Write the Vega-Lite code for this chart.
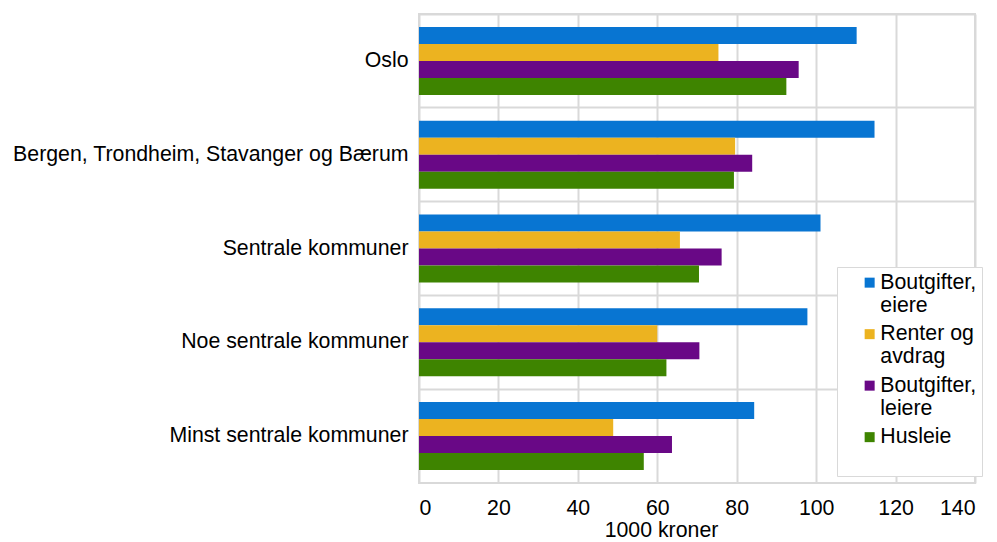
{
  "$schema": "https://vega.github.io/schema/vega-lite/v6.json",
  "width": 556,
  "height": 469,
  "autosize": {"type": "none"},
  "padding": {"left": 419, "top": 14, "right": 22, "bottom": 59},
  "background": "white",
  "config": {
    "view": {"stroke": "#d9d9d9", "strokeWidth": 2},
    "font": "Liberation Sans"
  },
  "data": {
    "values": [
      {"region": "Oslo", "serie": "Boutgifter, eiere", "verdi": 110.2},
      {"region": "Oslo", "serie": "Renter og avdrag", "verdi": 75.4},
      {"region": "Oslo", "serie": "Boutgifter, leiere", "verdi": 95.6},
      {"region": "Oslo", "serie": "Husleie", "verdi": 92.5},
      {"region": "Bergen, Trondheim, Stavanger og Bærum", "serie": "Boutgifter, eiere", "verdi": 114.7},
      {"region": "Bergen, Trondheim, Stavanger og Bærum", "serie": "Renter og avdrag", "verdi": 79.6},
      {"region": "Bergen, Trondheim, Stavanger og Bærum", "serie": "Boutgifter, leiere", "verdi": 83.9},
      {"region": "Bergen, Trondheim, Stavanger og Bærum", "serie": "Husleie", "verdi": 79.3},
      {"region": "Sentrale kommuner", "serie": "Boutgifter, eiere", "verdi": 101.1},
      {"region": "Sentrale kommuner", "serie": "Renter og avdrag", "verdi": 65.7},
      {"region": "Sentrale kommuner", "serie": "Boutgifter, leiere", "verdi": 76.2},
      {"region": "Sentrale kommuner", "serie": "Husleie", "verdi": 70.5},
      {"region": "Noe sentrale kommuner", "serie": "Boutgifter, eiere", "verdi": 97.8},
      {"region": "Noe sentrale kommuner", "serie": "Renter og avdrag", "verdi": 60.0},
      {"region": "Noe sentrale kommuner", "serie": "Boutgifter, leiere", "verdi": 70.6},
      {"region": "Noe sentrale kommuner", "serie": "Husleie", "verdi": 62.3},
      {"region": "Minst sentrale kommuner", "serie": "Boutgifter, eiere", "verdi": 84.4},
      {"region": "Minst sentrale kommuner", "serie": "Renter og avdrag", "verdi": 48.9},
      {"region": "Minst sentrale kommuner", "serie": "Boutgifter, leiere", "verdi": 63.7},
      {"region": "Minst sentrale kommuner", "serie": "Husleie", "verdi": 56.6}
    ]
  },
  "mark": {"type": "bar"},
  "encoding": {
    "y": {
      "field": "region",
      "type": "nominal",
      "sort": ["Oslo", "Bergen, Trondheim, Stavanger og Bærum", "Sentrale kommuner", "Noe sentrale kommuner", "Minst sentrale kommuner"],
      "scale": {"paddingInner": 0, "paddingOuter": 0},
      "axis": {
        "title": null,
        "grid": true,
        "bandPosition": 0,
        "gridColor": "#d9d9d9",
        "gridWidth": 2,
        "ticks": false,
        "domain": false,
        "labelFontSize": 21.3,
        "labelColor": "#000000",
        "labelPadding": 11,
        "labelLimit": 500
      }
    },
    "yOffset": {
      "field": "serie",
      "type": "nominal",
      "sort": ["Boutgifter, eiere", "Renter og avdrag", "Boutgifter, leiere", "Husleie"],
      "scale": {"paddingInner": 0, "paddingOuter": 0.76}
    },
    "x": {
      "field": "verdi",
      "type": "quantitative",
      "scale": {"domain": [0, 140], "nice": false},
      "axis": {
        "title": "1000 kroner",
        "values": [0, 20, 40, 60, 80, 100, 120, 140],
        "grid": true,
        "gridColor": "#d9d9d9",
        "gridWidth": 2,
        "ticks": false,
        "domain": false,
        "labelFontSize": 21.3,
        "labelColor": "#000000",
        "labelPadding": 14,
        "titleFontSize": 21.3,
        "titleFontWeight": "normal",
        "titleColor": "#000000",
        "titlePadding": 1,
        "titleX": 242
      }
    },
    "color": {
      "field": "serie",
      "type": "nominal",
      "sort": ["Boutgifter, eiere", "Renter og avdrag", "Boutgifter, leiere", "Husleie"],
      "scale": {
        "domain": ["Boutgifter, eiere", "Renter og avdrag", "Boutgifter, leiere", "Husleie"],
        "range": ["#0875d2", "#ecb320", "#690886", "#3e8400"]
      },
      "legend": {
        "title": null,
        "orient": "none",
        "legendX": 418,
        "legendY": 253,
        "fillColor": "white",
        "strokeColor": "#d9d9d9",
        "padding": 5,
        "symbolType": "square",
        "symbolSize": 100,
        "symbolStrokeWidth": 0,
        "symbolOffset": 17,
        "labelFontSize": 21.3,
        "labelColor": "#000000",
        "labelOffset": 0,
        "labelLimit": 300,
        "rowPadding": 5.5,
        "labelBaseline": "middle",
        "labelExpr": "datum.label == 'Husleie' ? ['Husleie', ' '] : datum.label == 'Renter og avdrag' ? ['Renter og', 'avdrag'] : datum.label == 'Boutgifter, eiere' ? ['Boutgifter,   ', 'eiere'] : ['Boutgifter,   ', 'leiere']"
      }
    }
  }
}
